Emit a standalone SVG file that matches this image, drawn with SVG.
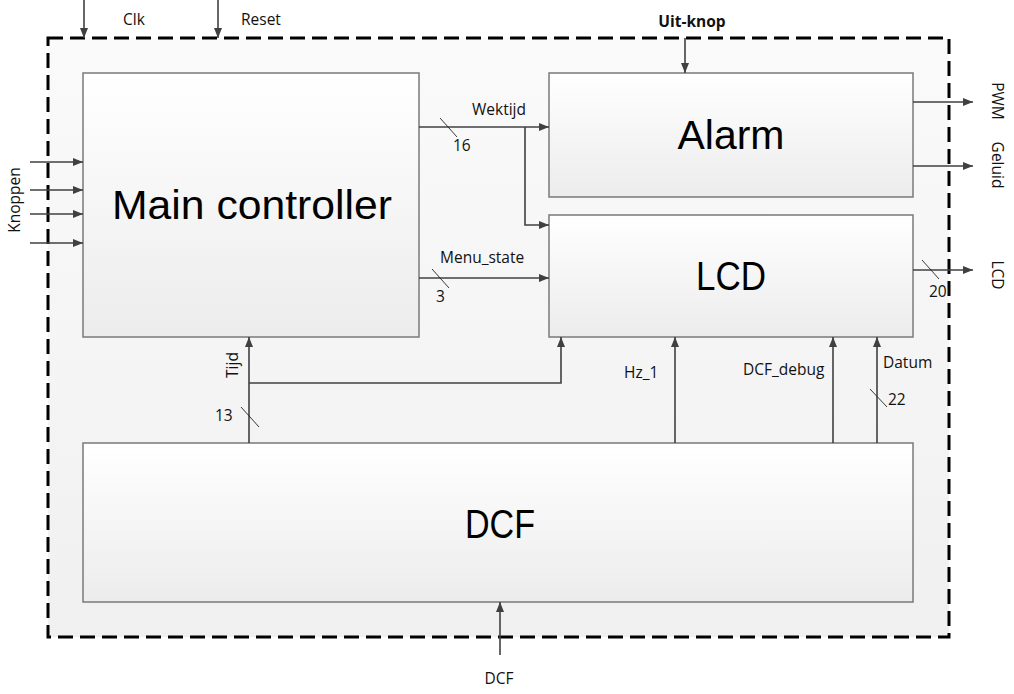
<svg xmlns="http://www.w3.org/2000/svg" width="1014" height="694" viewBox="0 0 1014 694">
<defs>
<linearGradient id="bg" x1="0" y1="0" x2="0" y2="1"><stop offset="0" stop-color="#fafafa"/><stop offset="1" stop-color="#f0f0f0"/></linearGradient>
<linearGradient id="box" x1="0" y1="0" x2="0" y2="1"><stop offset="0" stop-color="#ffffff"/><stop offset="1" stop-color="#ececec"/></linearGradient>
<marker id="ah" viewBox="0 0 10 10" refX="10" refY="5" markerWidth="10" markerHeight="10" markerUnits="userSpaceOnUse" orient="auto"><path d="M0,1 L10,5 L0,9 Z" fill="#404040"/></marker>
</defs>
<style>
.blk{fill:url(#box);stroke:#7a7a7a;stroke-width:1.5}
.big{font-family:"Liberation Sans",Arial,sans-serif;font-size:41px;fill:#000;text-anchor:middle}
.lbl{font-family:"Open Sans","Liberation Sans",sans-serif;font-size:15.5px;fill:#111}
.w{fill:none;stroke:#404040;stroke-width:1.6}
.wa{fill:none;stroke:#404040;stroke-width:1.6;marker-end:url(#ah)}
.sl{stroke:#222;stroke-width:0.9}
</style>
<rect width="1014" height="694" fill="#ffffff"/>
<rect id="frame" x="48" y="38" width="901" height="599" fill="url(#bg)" stroke="#000" stroke-width="3" stroke-dasharray="15,7"/>
<g id="main-controller"><rect class="blk" x="83" y="73" width="336" height="264"/><text class="big" x="252" y="219" textLength="280" lengthAdjust="spacingAndGlyphs">Main controller</text></g>
<g id="alarm"><rect class="blk" x="549" y="73" width="364" height="124"/><text class="big" x="731" y="149" textLength="107" lengthAdjust="spacingAndGlyphs">Alarm</text></g>
<g id="lcd"><rect class="blk" x="549" y="215" width="364" height="122"/><text class="big" x="731" y="290" textLength="70" lengthAdjust="spacingAndGlyphs">LCD</text></g>
<g id="dcf"><rect class="blk" x="83" y="443" width="830" height="159"/><text class="big" x="500" y="538" textLength="70" lengthAdjust="spacingAndGlyphs">DCF</text></g>
<g id="connectors">
<path class="wa" d="M84,0 V38"/>
<path class="wa" d="M218,0 V38"/>
<path class="wa" d="M685,38 V73"/>
<path class="wa" d="M30,162 H83"/>
<path class="wa" d="M30,190 H83"/>
<path class="wa" d="M30,214 H83"/>
<path class="wa" d="M30,243 H83"/>
<path class="wa" d="M419,127 H549"/>
<path class="wa" d="M525,127 V225 H549"/>
<path class="wa" d="M419,278 H549"/>
<path class="wa" d="M913,102 H973"/>
<path class="wa" d="M913,166 H973"/>
<path class="wa" d="M913,270 H973"/>
<path class="wa" d="M249,443 V337"/>
<path class="wa" d="M249,383 H561 V337"/>
<path class="wa" d="M675,443 V337"/>
<path class="wa" d="M833,443 V337"/>
<path class="wa" d="M877,443 V337"/>
<path class="wa" d="M500,655 V602"/>
<line class="sl" x1="440" y1="118" x2="457" y2="137"/>
<line class="sl" x1="432" y1="269" x2="449" y2="288"/>
<line class="sl" x1="922" y1="260" x2="939" y2="279"/>
<line class="sl" x1="241" y1="407" x2="259" y2="427"/>
<line class="sl" x1="870" y1="389" x2="887" y2="407"/>
</g>
<g id="labels">
<text class="lbl" x="123" y="25">Clk</text>
<text class="lbl" x="241" y="25">Reset</text>
<text class="lbl" x="692" y="27" text-anchor="middle" font-weight="bold" fill="#000">Uit-knop</text>
<text class="lbl" x="472" y="115">Wektijd</text>
<text class="lbl" x="453" y="151">16</text>
<text class="lbl" x="440" y="263">Menu_state</text>
<text class="lbl" x="436" y="302">3</text>
<text class="lbl" x="929" y="297">20</text>
<text class="lbl" x="215" y="421">13</text>
<text class="lbl" x="624" y="378">Hz_1</text>
<text class="lbl" x="743" y="375">DCF_debug</text>
<text class="lbl" x="883" y="368">Datum</text>
<text class="lbl" x="888" y="405">22</text>
<text class="lbl" x="499" y="684" text-anchor="middle">DCF</text>
<text class="lbl" text-anchor="middle" transform="translate(233,365) rotate(-90)" dy="5">Tijd</text>
<text class="lbl" text-anchor="middle" transform="translate(15,200) rotate(-90)" dy="5">Knoppen</text>
<text class="lbl" text-anchor="middle" transform="translate(997,101) rotate(90)" dy="5">PWM</text>
<text class="lbl" text-anchor="middle" transform="translate(997,165) rotate(90)" dy="5">Geluid</text>
<text class="lbl" text-anchor="middle" transform="translate(997,275) rotate(90)" dy="5">LCD</text>
</g>
</svg>
